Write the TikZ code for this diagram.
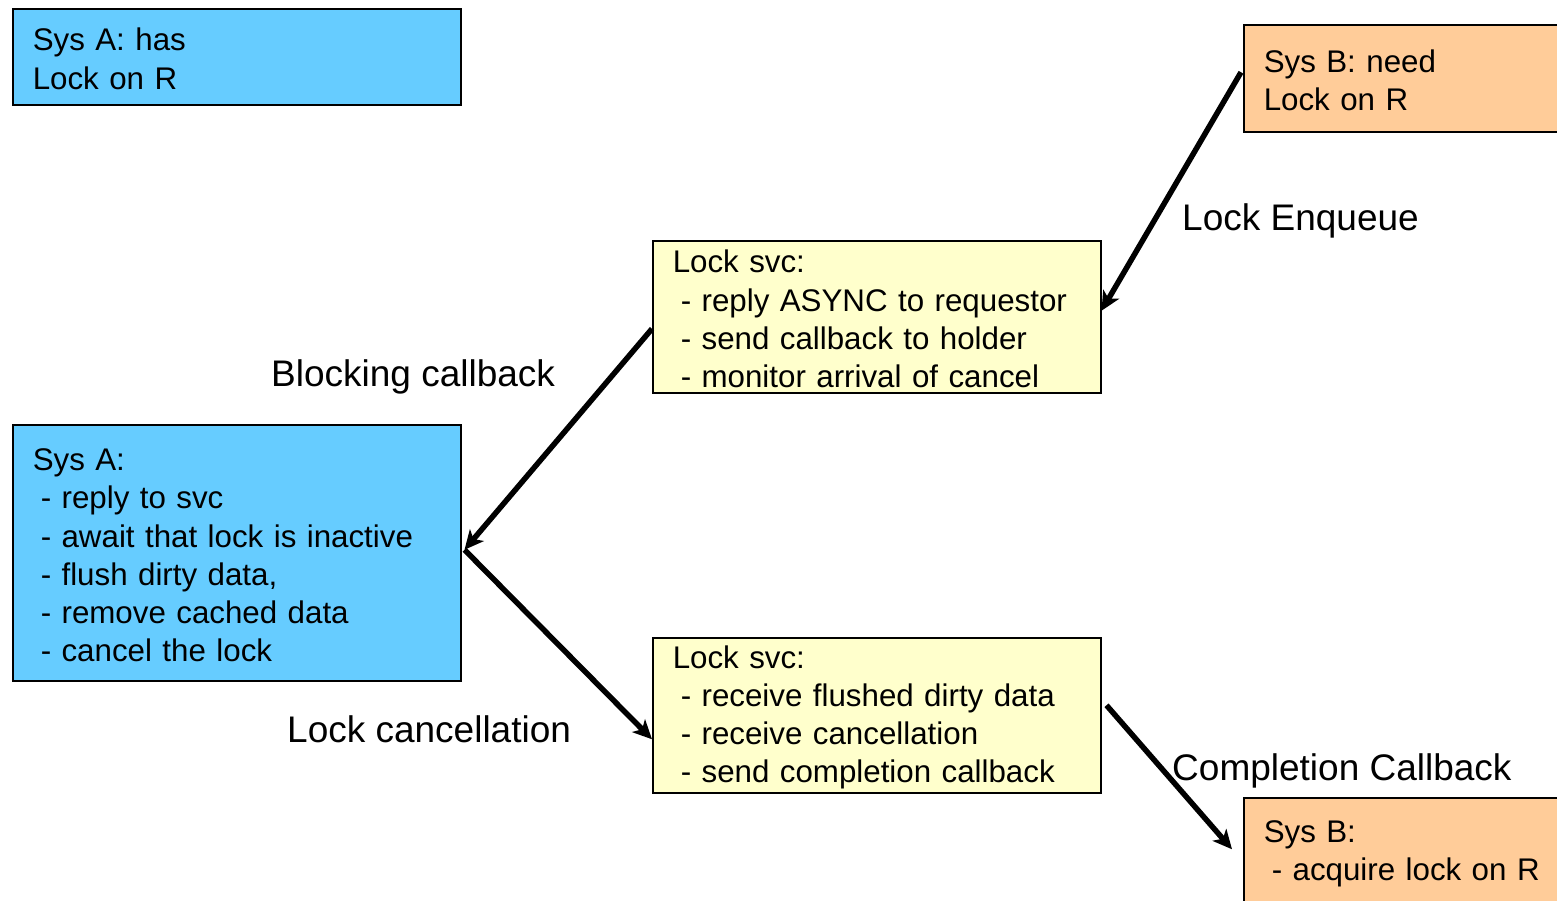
\documentclass[tikz,border=0pt]{standalone}
\usepackage{fontspec}
\setmainfont{Liberation Sans}
\usetikzlibrary{arrows.meta,calc}
\definecolor{sysblue}{HTML}{66CCFF}
\definecolor{svcyellow}{HTML}{FFFFCC}
\definecolor{sysorange}{HTML}{FFCC99}

\tikzset{
  box/.style={draw=black, line width=1.5pt, anchor=north west, align=left,
    inner xsep=20pt, inner ysep=0pt, text width=408pt,
    font=\fontsize{31.3}{38.2}\selectfont,
    execute at begin node={\rule{0pt}{27pt}}},
  edge/.style={box, text width=360pt},
  conn/.style={line width=5.5pt, -{Stealth[length=19pt,width=18pt,inset=5pt]}},
  lbl/.style={anchor=base west, inner sep=0pt, font=\fontsize{37}{44}\selectfont}
}
\newcommand{\ind}{\hspace{8pt}}

\begin{document}
\begin{tikzpicture}[x=1pt,y=-1pt]
\useasboundingbox (0,0) rectangle (1557,900);
\clip (0,0) rectangle (1557,900);

% systems and lock service
\node[box, fill=sysblue, minimum height=96pt] (hasA) at (12,8)
  {Sys A: has\\Lock on R};
\node[edge, fill=sysorange, minimum height=107pt] (needB) at (1243,24)
  {Sys B: need\\Lock on R};
\node[box, fill=svcyellow, minimum height=152pt] (svcA) at (652,240)
  {Lock svc:\\\ind- reply ASYNC to requestor\\\ind- send callback to holder\\\ind- monitor arrival of cancel};
\node[box, fill=sysblue, minimum height=256pt] (sysA) at (12,424)
  {Sys A:\\\ind- reply to svc\\\ind- await that lock is inactive\\\ind- flush dirty data,\\\ind- remove cached data\\\ind- cancel the lock};
\node[box, fill=svcyellow, minimum height=155pt] (svcB) at (652,637)
  {Lock svc:\\\ind- receive flushed dirty data\\\ind- receive cancellation\\\ind- send completion callback};
\node[edge, fill=sysorange, minimum height=107pt] (acqB) at (1243,797)
  {Sys B:\\\ind- acquire lock on R};

% message flow
\draw[conn] ($(needB.west)+(-2,-6)$) -- ($(svcA.east)+(0,-6)$);
\draw[conn] ($(svcA.west)+(0,12)$) -- ($(sysA.east)+(3,-3)$);
\draw[conn] ($(sysA.east)+(3,-3)$) -- ($(svcB.west)+(0,24)$);
\coordinate (doneStart) at ($(svcB.east)+(5,-10)$);
\draw[conn] (doneStart) -- ($(acqB.west)+(-11,-2)$);

% labels
\node[lbl] (enq) at (1182,230) {Lock Enqueue};
\node[lbl] (blk) at (271,386) {Blocking callback};
\node[lbl] (cnc) at (287,742) {Lock cancellation};
\node[lbl] (cmp) at (1172,780) {Completion Callback};
\end{tikzpicture}
\end{document}
